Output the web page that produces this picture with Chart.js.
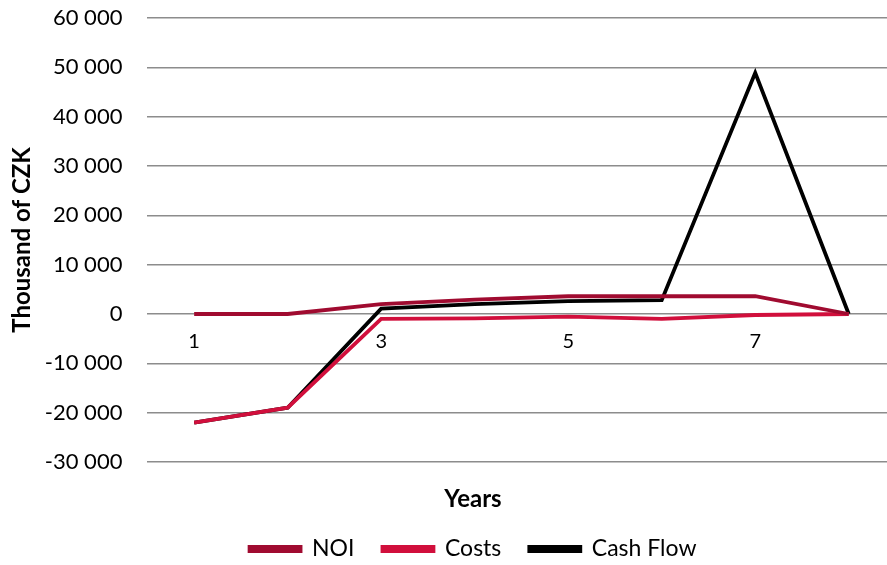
<!DOCTYPE html>
<html>
<head>
<meta charset="utf-8">
<script src="https://cdn.jsdelivr.net/npm/chart.js@4/dist/chart.umd.min.js"></script>
<style>
  html, body { margin: 0; padding: 0; background: #fff; overflow: hidden; }
  #wrap { width: 946px; height: 565px; position: relative; }
</style>
</head>
<body>
<div id="wrap"><canvas id="c"></canvas></div>
<script>
const years = [1, 2, 3, 4, 5, 6, 7, 8];
const xTickLabels = [1, 3, 5, 7];
const noi = [0, 0, 2000, 2900, 3600, 3600, 3600, 0];
const costs = [-22000, -19000, -1000, -900, -550, -1000, -200, 0];
const cashFlow = [-22000, -19000, 1100, 2000, 2600, 2800, 48900, 0];
const yTicks = [-30000, -20000, -10000, 0, 10000, 20000, 30000, 40000, 50000, 60000];

const FONT = 'Lato';
function fmt(v) {
  const s = Math.abs(v).toString().replace(/\B(?=(\d{3})+(?!\d))/g, ' ');
  return (v < 0 ? '-' : '') + s;
}
const pts = (arr) => years.map((x, i) => ({ x: x, y: arr[i] }));

new Chart(document.getElementById('c'), {
  type: 'line',
  data: {
    datasets: [
      { label: 'NOI', data: pts(noi), borderColor: '#A00B30', backgroundColor: '#A00B30', borderWidth: 3.8, pointRadius: 0, tension: 0, fill: false },
      { label: 'Costs', data: pts(costs), borderColor: '#D10F3C', backgroundColor: '#D10F3C', borderWidth: 3.8, pointRadius: 0, tension: 0, fill: false },
      { label: 'Cash Flow', data: pts(cashFlow), borderColor: '#000000', backgroundColor: '#000000', borderWidth: 3.8, pointRadius: 0, tension: 0, fill: false }
    ]
  },
  options: {
    responsive: true,
    maintainAspectRatio: false,
    animation: false,
    layout: { padding: { top: 18, left: 0, right: 0, bottom: 0 } },
    scales: {
      x: {
        type: 'linear',
        min: 0.5,
        max: 9.04,
        position: { y: 0 },
        afterBuildTicks: (scale) => { scale.ticks = xTickLabels.map(v => ({ value: v })); },
        grid: { display: false, drawTicks: true, tickLength: 16 },
        border: { display: false },
        ticks: {
          autoSkip: false,
          maxRotation: 0,
          padding: 0,
          color: '#000',
          font: { family: FONT, size: 20 },
          callback: (v) => String(v)
        }
      },
      y: {
        min: -30000,
        max: 60000,
        afterBuildTicks: (scale) => { scale.ticks = yTicks.map(v => ({ value: v })); },
        grid: { color: '#8C8C8C', lineWidth: 1.5, drawTicks: true, tickLength: 25, tickColor: 'rgba(0,0,0,0)' },
        border: { display: false },
        ticks: {
          padding: 0,
          color: '#000',
          font: { family: FONT, size: 22 },
          callback: (v) => fmt(v)
        },
        title: {
          display: true,
          text: 'Thousand of CZK',
          color: '#000',
          font: { family: FONT, size: 24, weight: 'bold' },
          padding: { top: 8, bottom: 8 }
        }
      }
    },
    plugins: {
      title: {
        display: true,
        text: 'Years',
        position: 'bottom',
        weight: 500,
        color: '#000',
        font: { family: FONT, size: 24, weight: 'bold', lineHeight: 0.5 },
        padding: { top: 31, bottom: 4.5 }
      },
      legend: {
        position: 'bottom',
        weight: 1000,
        maxHeight: 55.5,
        labels: {
          boxWidth: 51,
          boxHeight: 4,
          padding: 28,
          color: '#000',
          font: { family: FONT, size: 23 }
        }
      },
      tooltip: { enabled: false }
    }
  }
});
</script>
</body>
</html>
